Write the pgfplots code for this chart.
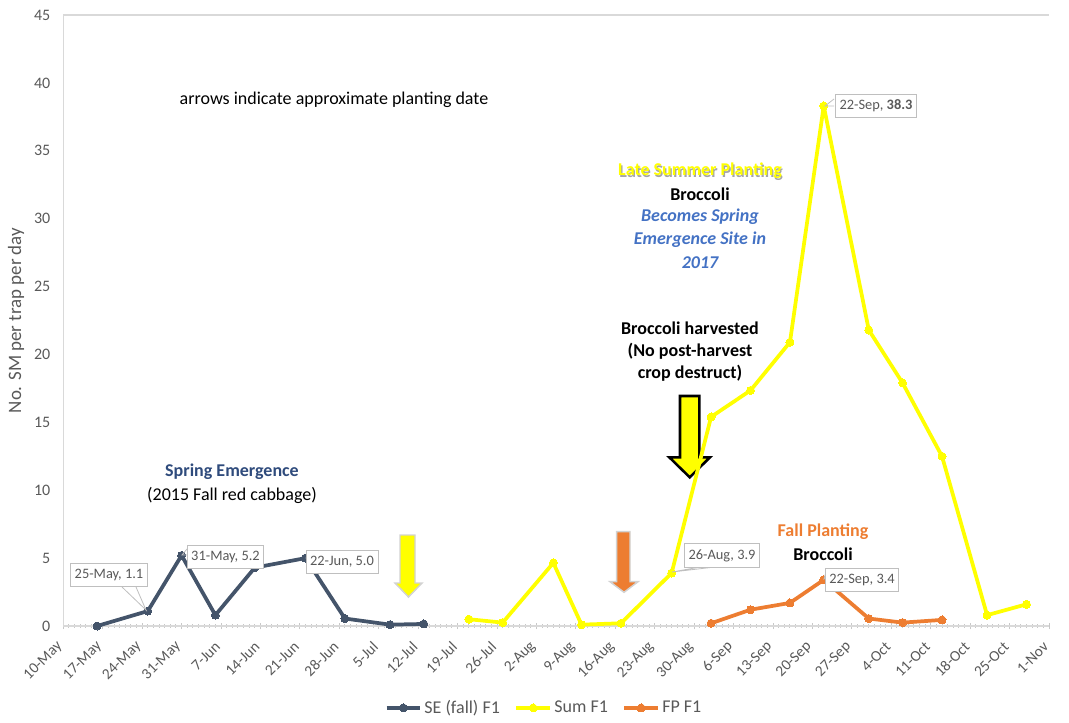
\documentclass[border=0pt]{standalone}
\usepackage{pgfplots}
\pgfplotsset{compat=1.18}
\usepackage{fontspec}
\setmainfont{Carlito}
\definecolor{se}{HTML}{44546A}
\definecolor{sumc}{HTML}{FFFF00}
\definecolor{fp}{HTML}{ED7D31}
\definecolor{txtgray}{HTML}{595959}
\definecolor{axgray}{HTML}{D9D9D9}
\definecolor{tickgray}{HTML}{C8C8C8}
\definecolor{navy}{HTML}{2F4B7C}
\definecolor{blu}{HTML}{4472C4}
\definecolor{boxgray}{HTML}{BFBFBF}
\newcommand{\fs}[1]{\fontsize{#1}{#1}\selectfont}
\begin{document}
\begin{tikzpicture}
\useasboundingbox (0,0) rectangle (801.75pt,541.5pt);
% planting arrows (under the data lines)
\begin{scope}[x=0.75pt,y=-0.75pt,shift={(0pt,541.5pt)}]
\filldraw[fill=sumc, draw=gray!35, line width=1.1pt, line join=miter]
  (400,535) -- (415,535) -- (415,583) -- (422,583) -- (408.5,597) -- (395,583) -- (400,583) -- cycle;
\filldraw[fill=fp, draw=gray!35, line width=1.1pt, line join=miter]
  (616.7,531.7) -- (630,531.7) -- (630,581.7) -- (638,581.7) -- (624,592.3) -- (610,581.7) -- (616.7,581.7) -- cycle;
\filldraw[fill=sumc, draw=black, line width=1.9pt, line join=miter]
  (680,396) -- (699.3,396) -- (699.3,457.3) -- (710,457.3) -- (689.7,477.3) -- (669.3,457.3) -- (680,457.3) -- cycle;
\end{scope}
\begin{axis}[
  at={(47.475pt,72pt)}, anchor=south west,
  scale only axis, width=739.3pt, height=458.25pt,
  xmin=0, xmax=175, ymin=0, ymax=45,
  axis lines*=left,
  axis line style={axgray, line width=0.8pt},
  xtick={0,7,...,175},
  xticklabels={10-May,17-May,24-May,31-May,7-Jun,14-Jun,21-Jun,28-Jun,5-Jul,12-Jul,19-Jul,26-Jul,2-Aug,9-Aug,16-Aug,23-Aug,30-Aug,6-Sep,13-Sep,20-Sep,27-Sep,4-Oct,11-Oct,18-Oct,25-Oct,1-Nov},
  minor x tick num=6,
  tick align=center,
  major tick length=4.5pt, minor tick length=2.5pt,
  xtick style={tickgray, line width=0.7pt},
  every minor tick/.append style={tickgray, line width=0.6pt},
  ytick={0,5,...,45},
  ytick style={draw=none},
  /pgf/number format/assume math mode=true,
  ticklabel style={font=\fs{12}, text=txtgray},
  xticklabel style={rotate=45, anchor=east, font=\fs{11.5}},
  xticklabel shift=9pt,
  yticklabel style={xshift=-4pt},
  ylabel={No. SM per trap per day},
  ylabel style={at={(axis description cs:-0.048,0.5)}, anchor=center, font=\fs{14.2}, text=txtgray},
  legend columns=3,
  legend style={at={(0.488,-0.134)}, anchor=center, draw=none, fill=none,
    font=\fs{13.5}, text=txtgray,
    /tikz/every even column/.append style={column sep=9pt}},
  legend image code/.code={\draw[#1, mark repeat=2, mark phase=2] plot coordinates {(0pt,0pt) (12.5pt,0pt) (25pt,0pt)};},
  every axis plot/.append style={line width=2.8pt, line join=round, mark=*, mark size=3pt},
]
\addplot[se, mark options={fill=se, draw=se, line width=0pt}] coordinates {
 (6,0.0) (15,1.1) (21,5.2) (27,0.8) (34,4.3) (43,5.0) (50,0.55) (58,0.1) (64,0.15)};
\addlegendentry{SE (fall) F1}
\addplot[sumc, mark options={fill=sumc, draw=sumc, line width=0pt}] coordinates {
 (72,0.5) (78,0.25) (87,4.65) (92,0.1) (99,0.2) (108,3.9) (115,15.4) (122,17.35) (129,20.9) (135,38.3) (143,21.8) (149,17.9) (156,12.5) (164,0.8) (171,1.6)};
\addlegendentry{Sum F1}
\addplot[fp, mark options={fill=fp, draw=fp, line width=0pt}] coordinates {
 (115,0.2) (122,1.2) (129,1.7) (135,3.4) (143,0.55) (149,0.25) (156,0.45)};
\addlegendentry{FP F1}
\end{axis}
% annotations (pixel coordinates of the reference)
\begin{scope}[x=0.75pt,y=-0.75pt,shift={(0pt,541.5pt)}]
\draw[axgray, line width=0.8pt] (63.3,15) -- (1049,15);
\node[font=\fs{13.5}, text=black] at (334,100) {arrows indicate approximate planting date};
\node[font=\bfseries\fs{13.5}, text=navy] at (232,472) {Spring Emergence};
\node[font=\fs{13.5}, text=black] at (232,495) {(2015 Fall red cabbage)};
\node[font=\bfseries\fs{13.5}, text=gray!70] at (701.2,172.2) {Late Summer Planting};
\node[font=\bfseries\fs{13.5}, text=sumc] at (700,171) {Late Summer Planting};
\node[font=\bfseries\fs{13.5}, text=black] at (700,194) {Broccoli};
\node[font=\bfseries\itshape\fs{13.5}, text=blu] at (700,217) {Becomes Spring};
\node[font=\bfseries\itshape\fs{13.5}, text=blu] at (700,240) {Emergence Site in};
\node[font=\bfseries\itshape\fs{13.5}, text=blu] at (700,263) {2017};
\node[font=\bfseries\fs{13.5}, text=black] at (690,328) {Broccoli harvested};
\node[font=\bfseries\fs{13.5}, text=black] at (690,351) {(No post-harvest};
\node[font=\bfseries\fs{13.5}, text=black] at (690,373) {crop destruct)};
\node[font=\bfseries\fs{13.5}, text=fp] at (823,532) {Fall Planting};
\node[font=\bfseries\fs{13.5}, text=black] at (823,554) {Broccoli};
% data-label callouts
\tikzset{dl/.style={draw=boxgray, fill=white, text=txtgray, font=\fs{10.8}, line width=0.6pt, inner xsep=3pt, inner ysep=0pt, minimum height=17.5pt}}
\draw[boxgray, line width=0.6pt] (122,587) -- (146,610) -- (136,587);
\node[dl] at (109,575) {25-May, 1.1};
\draw[boxgray, line width=0.6pt] (187,549) -- (182,555) -- (187,555);
\node[dl] at (225.5,557) {31-May, 5.2};
\draw[boxgray, line width=0.6pt] (308,555) -- (306,558) -- (308,561);
\node[dl] at (342,562) {22-Jun, 5.0};
\draw[boxgray, line width=0.6pt] (700,567) -- (672,572) -- (715,567);
\node[dl] at (722,555.5) {26-Aug, 3.9};
\draw[boxgray, line width=0.6pt] (826,572) -- (824,579) -- (826,578);
\node[dl] at (862,580) {22-Sep, 3.4};
\draw[boxgray, line width=0.6pt] (834,99) -- (825,106) -- (834,106);
\node[dl] at (876,106) {22-Sep, \textbf{38.3}};
\end{scope}
\end{tikzpicture}
\end{document}
